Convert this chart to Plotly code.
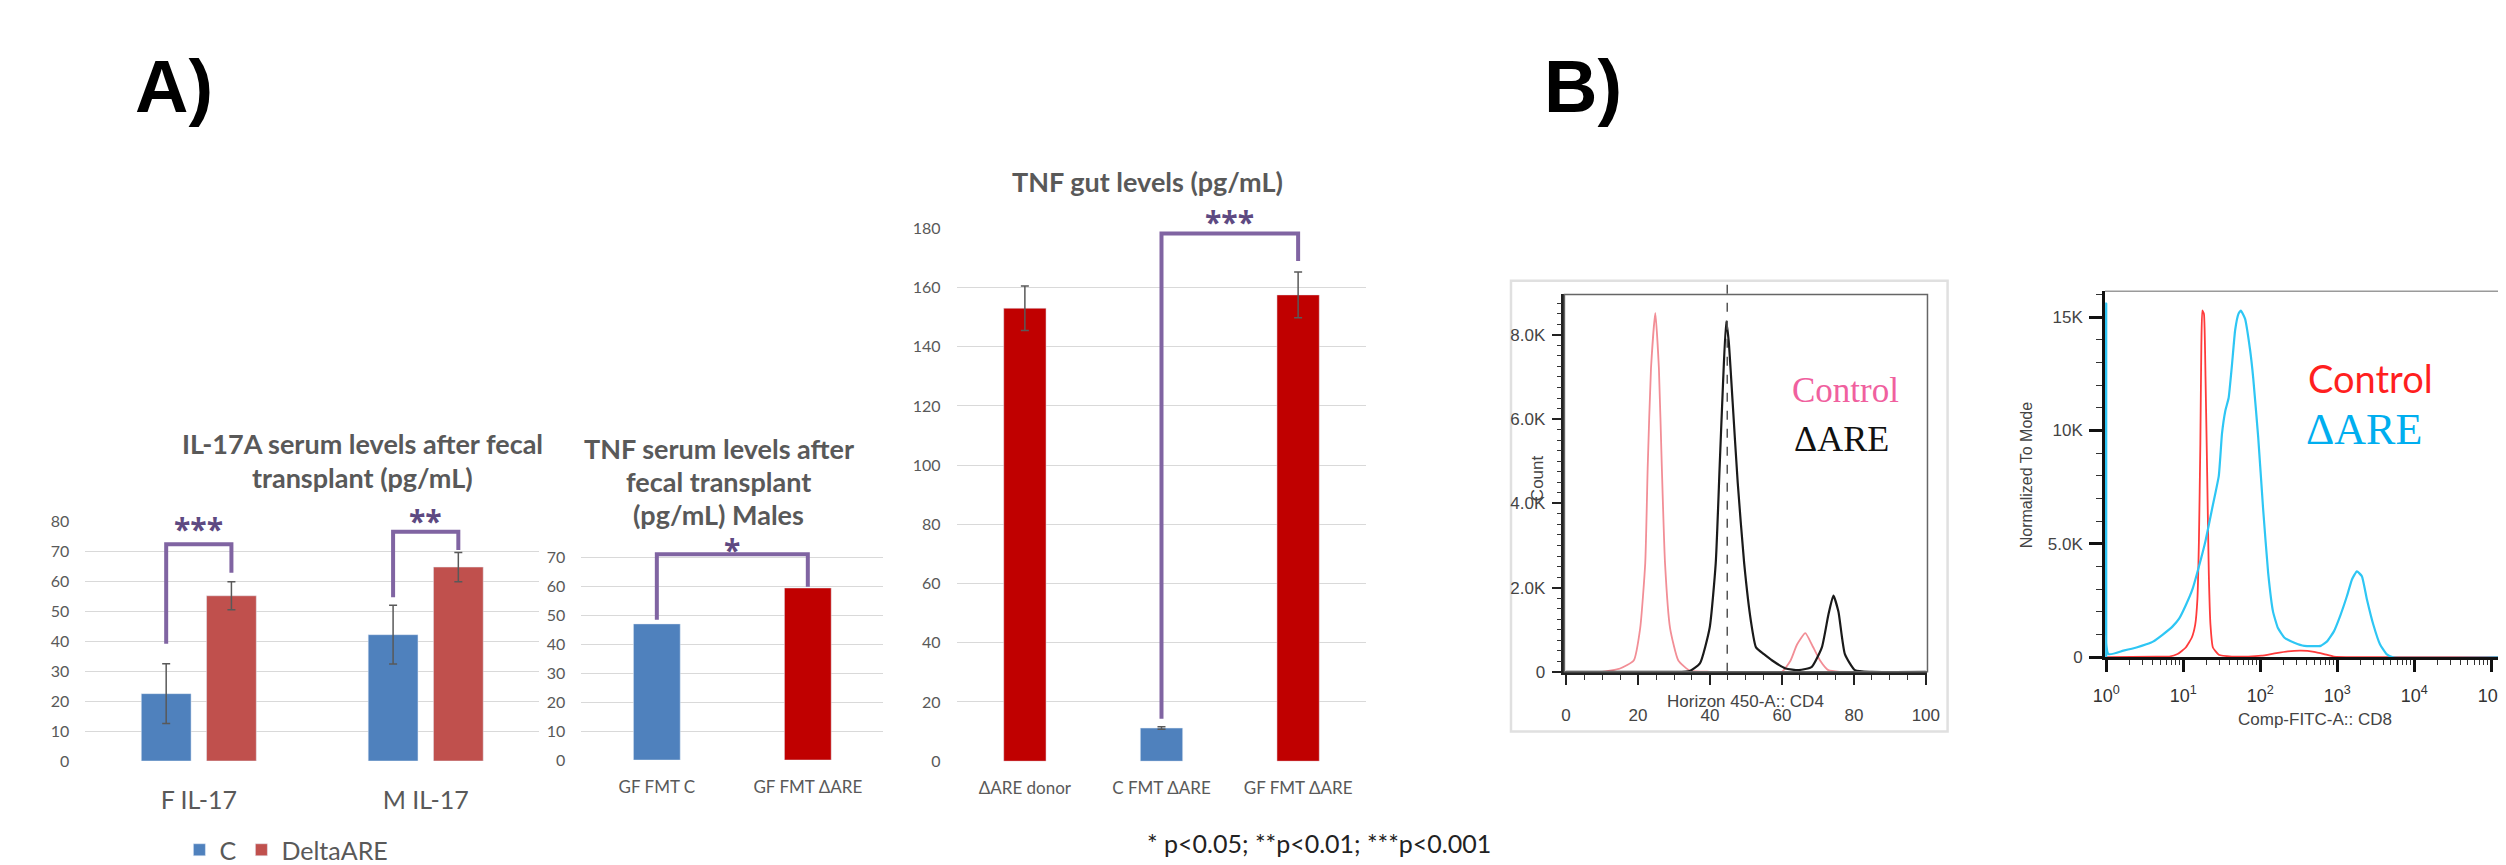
import plotly.graph_objects as go

W, H = 2506, 865

# ---------------- data ----------------
il17_categories = ["F IL-17", "M IL-17"]
il17_c_values = [22.5, 42.2]
il17_c_errors = [10.0, 9.8]
il17_dare_values = [55.2, 64.8]
il17_dare_errors = [4.7, 4.9]
il17_stars = ["***", "**"]
il17_bracket_left = [39.2, 54.7]
il17_bracket_top = [72.4, 76.6]
il17_bracket_right = [62.9, 70.5]
il17_star_y = [79.7, 82.4]

tnfs_categories = ["GF FMT C", "GF FMT ΔARE"]
tnfs_values = [47.0, 59.4]
tnfs_bracket = [48.4, 71.0, 59.8]
tnfs_star = "*"
tnfs_star_y = 74.7

tnfg_categories = ["ΔARE donor", "C FMT ΔARE", "GF FMT ΔARE"]
tnfg_values = [153.0, 11.2, 157.5]
tnfg_errors = [7.5, 0.4, 7.7]
tnfg_bracket = [14.3, 178.2, 168.9]
tnfg_star = "***"
tnfg_star_y = 184.3

cd4_control_x = [0, 10, 15, 18.8, 20.6, 22.0, 22.7, 23.6, 24.8, 25.8, 26.6, 27.5, 28.9, 31.2, 34.4, 40,
                 55, 60, 62.4, 64.2, 66.5, 68.3, 70.6, 72.9, 76, 100]
cd4_control_y = [0, 0, 80, 270, 1040, 2580, 4900, 7200, 8520, 7200, 4900, 2580, 1040, 270, 30, 0,
                 0, 0, 270, 650, 920, 650, 270, 40, 0, 0]
cd4_dare_x = [0, 30, 34.4, 37.2, 39.9, 41.6, 42.7, 43.6, 44.5, 45.2, 46.3, 47.7, 49.5, 51.4, 52.8, 55,
              57.3, 61, 64.7, 68.3, 71.1, 72.9, 74.3, 75.7, 77.5, 80.3, 85, 100]
cd4_dare_y = [0, 0, 20, 200, 1040, 2580, 4900, 6800, 8320, 7860, 6400, 4500, 2580, 1190, 580, 420,
              270, 80, 40, 120, 580, 1350, 1810, 1430, 420, 40, 0, 0]
cd4_gate_x = 44.8
cd4_xticks = [0, 20, 40, 60, 80, 100]
cd4_yticks = [0, 2000, 4000, 6000, 8000]
cd4_yticklabels = ["0", "2.0K", "4.0K", "6.0K", "8.0K"]

cd8_control_x = [1, 4.47, 6.6, 8.45, 10.8, 12.9, 14.3, 15.3, 16.0, 16.7, 17.2, 17.7, 18.6, 19.5, 20.5,
                 21.5, 22.6, 24.3, 29, 42.9, 70.1, 104, 154, 229, 339, 502, 675, 906, 1637, 135000]
cd8_control_y = [0, 30, 30, 140, 430, 860, 1430, 2570, 5140, 9430, 13710, 15290, 15140, 12290, 8000,
                 3710, 1430, 430, 110, 30, 30, 70, 170, 260, 290, 240, 140, 30, 0, 0]
cd8_dare_x = [1, 1, 1.07, 1.67, 2.47, 3.32, 4.05, 5.43, 7.29, 8.89, 10.8, 13.2, 16.0, 19.5, 23.8, 29.0,
              31.9, 35.2, 38.9, 42.9, 47.3, 52.2, 56.0, 63.5, 73.8, 81.3, 94.2, 109, 127, 147, 170,
              207, 278, 374, 611, 745, 906, 1104, 1343, 1556, 1803, 2094, 2427, 2951, 3597, 4375,
              5321, 135000]
cd8_dare_y = [0, 15600, 140, 290, 430, 570, 690, 1000, 1360, 1710, 2290, 3000, 4000, 5140, 6570, 8000,
              9860, 10860, 11430, 12860, 14430, 15140, 15290, 14930, 13570, 12290, 9710, 6570, 3710,
              2000, 1290, 860, 640, 500, 500, 710, 1140, 1860, 2710, 3430, 3790, 3570, 2570, 1430,
              570, 140, 0, 0]
cd8_xticks = [1, 10, 100, 1000, 10000, 100000]
cd8_xticklabels = ["10<sup>0</sup>", "10<sup>1</sup>", "10<sup>2</sup>", "10<sup>3</sup>",
                   "10<sup>4</sup>", "10<sup>5</sup>"]
cd8_yticks = [0, 5000, 10000, 15000]
cd8_yticklabels = ["0", "5.0K", "10K", "15K"]

# ---------------- styles ----------------
BLUE = "#4F81BD"
RED_SOFT = "#C0504D"
RED = "#C00000"
PURPLE = "#8064A2"
STAR = "#5E4A82"
GRID = "#D9D9D9"
TXT = "#595959"
XL = "Lato"

Y1_MAX, Y2_MAX, Y3_MAX = 80, 75, 180


def dx(l, r):
    return [l / W, r / W]


def dy(top, bottom):
    return [1 - bottom / H, 1 - top / H]


fig = go.Figure()

err_style = dict(type="data", color="#595959", thickness=1.5, width=4)
fig.add_trace(go.Bar(x=list(range(len(il17_categories))), y=il17_c_values, name="C",
                     marker_color=BLUE, error_y=dict(array=il17_c_errors, **err_style),
                     xaxis="x", yaxis="y"))
fig.add_trace(go.Bar(x=list(range(len(il17_categories))), y=il17_dare_values, name="DeltaARE",
                     marker_color=RED_SOFT, error_y=dict(array=il17_dare_errors, **err_style),
                     xaxis="x", yaxis="y"))

fig.add_trace(go.Bar(x=list(range(len(tnfs_categories))), y=tnfs_values, width=0.31,
                     marker_color=[BLUE, RED], showlegend=False, xaxis="x2", yaxis="y2"))

fig.add_trace(go.Bar(x=list(range(len(tnfg_categories))), y=tnfg_values, width=0.31,
                     marker_color=[RED, BLUE, RED], showlegend=False,
                     error_y=dict(array=tnfg_errors, **err_style), xaxis="x3", yaxis="y3"))

fig.add_trace(go.Scatter(x=cd4_control_x, y=cd4_control_y, mode="lines", showlegend=False,
                         line=dict(color="#F28E96", width=1.8, shape="spline", smoothing=0.5),
                         xaxis="x4", yaxis="y4"))
fig.add_trace(go.Scatter(x=cd4_dare_x, y=cd4_dare_y, mode="lines", showlegend=False,
                         line=dict(color="#1A1A1A", width=2.2, shape="spline", smoothing=0.5),
                         xaxis="x4", yaxis="y4"))

fig.add_trace(go.Scatter(x=cd8_control_x, y=cd8_control_y, mode="lines", showlegend=False,
                         line=dict(color="#FF3B3B", width=1.8, shape="spline", smoothing=0.4),
                         xaxis="x5", yaxis="y5"))
fig.add_trace(go.Scatter(x=cd8_dare_x, y=cd8_dare_y, mode="lines", showlegend=False,
                         line=dict(color="#2EC6F4", width=2.2, shape="spline", smoothing=0.4),
                         xaxis="x5", yaxis="y5"))

bar_y = dict(showgrid=True, gridcolor=GRID, gridwidth=1.3, zeroline=False, showline=False,
             ticks="", tickfont=dict(family=XL, size=16, color=TXT), ticklabelstandoff=15)
bar_x = dict(showgrid=False, zeroline=False, showline=False, ticks="")

layout = dict(
    width=W, height=H, margin=dict(l=0, r=0, t=0, b=0),
    paper_bgcolor="white", plot_bgcolor="rgba(0,0,0,0)",
    barmode="group", bargap=0.425, bargroupgap=0.237,
    showlegend=True,
    legend=dict(orientation="h", x=161 / W, y=1 - 855 / H, xanchor="left", yanchor="middle",
                font=dict(family=XL, size=25, color=TXT), bgcolor="rgba(0,0,0,0)",
                itemwidth=30),
    xaxis=dict(domain=dx(66, 524.4), range=[-0.5, 1.5], tickvals=list(range(len(il17_categories))),
               ticktext=il17_categories, tickfont=dict(family=XL, size=25, color=TXT),
               ticklabelstandoff=22, anchor="y", **bar_x),
    yaxis=dict(domain=dy(517.3, 763.3), range=[0, Y1_MAX], dtick=10, anchor="x", **bar_y),
    xaxis2=dict(domain=dx(567, 872), range=[-0.5, 1.5], tickvals=list(range(len(tnfs_categories))),
                ticktext=tnfs_categories, tickfont=dict(family=XL, size=17, color=TXT),
                ticklabelstandoff=15, anchor="y2", **bar_x),
    yaxis2=dict(domain=dy(539.1, 762.3), range=[0, Y2_MAX], tickvals=list(range(0, 71, 10)),
                anchor="x2", **bar_y),
    xaxis3=dict(domain=dx(946, 1360), range=[-0.5, 2.5], tickvals=list(range(len(tnfg_categories))),
                ticktext=tnfg_categories, tickfont=dict(family=XL, size=17, color=TXT),
                ticklabelstandoff=15, anchor="y3", **bar_x),
    yaxis3=dict(domain=dy(216, 763.5), range=[0, Y3_MAX], dtick=20, anchor="x3", **bar_y),
    xaxis4=dict(domain=dx(1560, 1926.7), range=[-0.46, 100.46], tickvals=cd4_xticks,
                showgrid=False, zeroline=False, showline=True, linecolor="#222", linewidth=2.5,
                ticks="outside", ticklen=10, tickwidth=2, tickcolor="#222",
                minor=dict(dtick=5, ticks="outside", ticklen=5, tickwidth=1.2, tickcolor="#333"),
                tickfont=dict(family="Liberation Sans", size=17, color="#444"),
                ticklabelstandoff=16, anchor="y4"),
    yaxis4=dict(domain=dy(284, 671.7), range=[0, 8960], tickvals=cd4_yticks, ticktext=cd4_yticklabels,
                showgrid=False, zeroline=False, showline=True, linecolor="#222", linewidth=2.5,
                ticks="outside", ticklen=10, tickwidth=2, tickcolor="#222",
                minor=dict(dtick=250, ticks="outside", ticklen=5, tickwidth=1.2, tickcolor="#333"),
                tickfont=dict(family="Liberation Sans", size=17, color="#444"),
                ticklabelstandoff=3, anchor="x4"),
    xaxis5=dict(domain=dx(2106, 2506), type="log", range=[-0.016, 5.128], tickvals=cd8_xticks,
                ticktext=cd8_xticklabels, showgrid=False, zeroline=False, showline=True,
                linecolor="#111", linewidth=2.5, ticks="outside", ticklen=12, tickwidth=2.5,
                tickcolor="#111",
                minor=dict(dtick="D1", ticks="outside", ticklen=5, tickwidth=1.2, tickcolor="#333"),
                tickfont=dict(family="Liberation Sans", size=18, color="#333"),
                ticklabelstandoff=8, anchor="y5"),
    yaxis5=dict(domain=dy(280.7, 656.7), range=[0, 16140], tickvals=cd8_yticks,
                ticktext=cd8_yticklabels, showgrid=False, zeroline=False, showline=True,
                linecolor="#111", linewidth=2.5, ticks="outside", ticklen=13, tickwidth=2.5,
                tickcolor="#111",
                minor=dict(dtick=1000, ticks="outside", ticklen=6, tickwidth=1.2, tickcolor="#333"),
                tickfont=dict(family="Liberation Sans", size=17, color="#444"),
                ticklabelstandoff=3, anchor="x5"),
)
fig.update_layout(**layout)

shapes = []
annotations = []


def bracket(xref, yref, x0, x1, yl, yt, yr):
    shapes.append(dict(type="path", xref=xref, yref=yref,
                       path=f"M{x0},{yl} L{x0},{yt} L{x1},{yt} L{x1},{yr}",
                       line=dict(color=PURPLE, width=4)))


def star(xref, yaxis, ymax, x, y, text):
    # y given in data units, placed through the axis domain so it can sit above the range
    annotations.append(dict(xref=xref, yref=f"{yaxis} domain", x=x, y=y / ymax,
                            text=f"<b>{text}</b>",
                            showarrow=False, xanchor="center", yanchor="middle", yshift=-6,
                            font=dict(family="Open Sans", size=30, color=STAR)))


half = (1 - layout["bargap"]) / 4
for i in range(len(il17_categories)):
    bracket("x", "y", i - half, i + half, il17_bracket_left[i], il17_bracket_top[i],
            il17_bracket_right[i])
    star("x", "y", Y1_MAX, i, il17_star_y[i], il17_stars[i])

bracket("x2", "y2", 0, 1, *tnfs_bracket)
star("x2", "y2", Y2_MAX, 0.5, tnfs_star_y, tnfs_star)
bracket("x3", "y3", 1, 2, *tnfg_bracket)
star("x3", "y3", Y3_MAX, 1.5, tnfg_star_y, tnfg_star)

shapes.append(dict(type="rect", xref="paper", yref="paper", x0=1506 / W, x1=1947 / W,
                   y0=1 - 733 / H, y1=1 - 270 / H, layer="below",
                   line=dict(color="#E0E0E0", width=2.5)))
shapes.append(dict(type="line", xref="x4", yref="y4 domain", x0=cd4_gate_x, x1=cd4_gate_x,
                   y0=0, y1=(671.7 - 271.7) / (671.7 - 284),
                   line=dict(color="#555", width=1.5, dash="dash")))
shapes.append(dict(type="rect", xref="x4 domain", yref="y4 domain", x0=0, x1=1, y0=0, y1=1,
                   line=dict(color="#666", width=1.5)))
shapes.append(dict(type="line", xref="x5 domain", yref="y5 domain", x0=0, x1=1, y0=1, y1=1,
                   line=dict(color="#9A9A9A", width=1.5)))


def text(xp, yp, s, size, color, family, xanchor="center", angle=0):
    annotations.append(dict(xref="paper", yref="paper", x=xp / W, y=1 - yp / H, text=s,
                            showarrow=False, xanchor=xanchor, yanchor="middle", textangle=angle,
                            font=dict(family=family, size=size, color=color)))


text(114, 70, "<b>A)</b>", 74, "black", "Liberation Sans", xanchor="left")
text(1537, 70, "<b>B)</b>", 74, "black", "Liberation Sans", xanchor="left")

text(346, 437, "<b>IL-17A serum levels after fecal</b>", 27, TXT, XL)
text(346, 472, "<b>transplant (pg/mL)</b>", 27, TXT, XL)
text(706, 442, "<b>TNF serum levels after</b>", 27, TXT, XL)
text(706, 476, "<b>fecal transplant</b>", 27, TXT, XL)
text(706, 510, "<b>(pg/mL) Males</b>", 27, TXT, XL)
text(1139, 168, "<b>TNF gut levels (pg/mL)</b>", 27, TXT, XL)
text(1312, 848, "* p&lt;0.05; **p&lt;0.01; ***p&lt;0.001", 25, "#222", XL)

text(1844, 383, "Control", 35, "#F0609E", "Liberation Serif")
text(1840, 432, "ΔARE", 36, "#111", "Liberation Serif")
text(1533, 473, "Count", 17, "#444", "Liberation Sans", angle=-90)
text(1743, 702, "Horizon 450-A:: CD4", 17, "#444", "Liberation Sans")

text(2374, 370, "Control", 38, "#FF1F1F", XL)
text(2368, 423, "ΔARE", 44, "#00AEEF", "Liberation Serif")
text(2027, 469, "Normalized To Mode", 16, "#444", "Liberation Sans", angle=-90)
text(2318, 721, "Comp-FITC-A:: CD8", 17, "#444", "Liberation Sans")

fig.update_layout(shapes=shapes, annotations=annotations)
fig.write_html("out.html")
